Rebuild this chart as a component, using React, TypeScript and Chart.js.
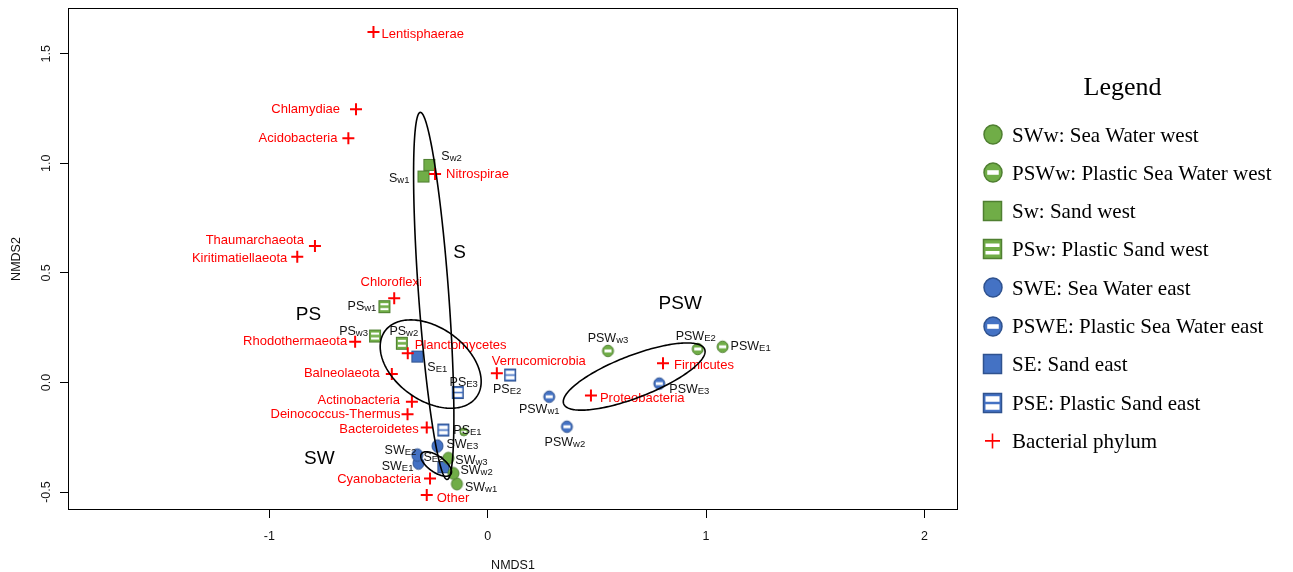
import React, { useEffect, useRef } from 'react';
import { Chart, registerables } from 'chart.js';

Chart.register(...registerables);

// ---------------- DATA ----------------
const xTicks = [-1, 0, 1, 2];
const yTicks = [-0.5, 0, 0.5, 1, 1.5];
const xRange = [-1.922, 2.154];
const yRange = [-0.582, 1.709];

const swwNames = ['SWw1', 'SWw2', 'SWw3'];
const swwX = [-0.141, -0.157, -0.18];
const swwY = [-0.463, -0.415, -0.346];

const pswwNames = ['PSWw3', 'PSWE2', 'PSWE1', ''];
const pswwX = [0.551, 0.962, 1.076, -0.109];
const pswwY = [0.144, 0.153, 0.163, -0.225];

const swNames = ['Sw1', 'Sw2'];
const swX = [-0.294, -0.267];
const swY = [0.94, 0.993];

const pswNames = ['PSw1', 'PSw2', 'PSw3'];
const pswX = [-0.473, -0.393, -0.516];
const pswY = [0.346, 0.179, 0.212];

const sweNames = ['SWE1', 'SWE2', 'SWE3'];
const sweX = [-0.317, -0.322, -0.23];
const sweY = [-0.368, -0.331, -0.29];

const psweNames = ['PSWE3', 'PSWw1', 'PSWw2'];
const psweX = [0.786, 0.282, 0.363];
const psweY = [-0.005, -0.065, -0.202];

const seNames = ['SE1', 'SE2'];
const seX = [-0.322, -0.203];
const seY = [0.118, -0.387];

const pseNames = ['PSE1', 'PSE2', 'PSE3'];
const pseX = [-0.203, 0.103, -0.137];
const pseY = [-0.217, 0.034, -0.046];

const phylumNames = [
  'Lentisphaerae', 'Chlamydiae', 'Acidobacteria', 'Nitrospirae', 'Thaumarchaeota',
  'Kiritimatiellaeota', 'Chloroflexi', 'Rhodothermaeota', 'Planctomycetes', 'Balneolaeota',
  'Verrucomicrobia', 'Actinobacteria', 'Deinococcus-Thermus', 'Bacteroidetes',
  'Cyanobacteria', 'Other', 'Firmicutes', 'Proteobacteria',
];
const phylumX = [-0.523, -0.603, -0.638, -0.241, -0.791, -0.872, -0.428, -0.607, -0.366, -0.439,
  0.042, -0.347, -0.367, -0.279, -0.264, -0.279, 0.803, 0.473];
const phylumY = [1.599, 1.247, 1.115, 0.951, 0.623, 0.574, 0.384, 0.186, 0.133, 0.039,
  0.042, -0.088, -0.145, -0.206, -0.438, -0.514, 0.088, -0.06];

const groupNames = ['S', 'PS', 'SW', 'PSW'];
const groupX = [-0.129, -0.821, -0.771, 0.882];
const groupY = [0.594, 0.308, -0.349, 0.358];

const ellipseCX = [-0.247, -0.261, -0.236, 0.671];
const ellipseCY = [0.395, 0.084, -0.372, 0.027];
const ellipseA = [0.84, 0.258, 0.082, 0.346];
const ellipseB = [0.069, 0.166, 0.037, 0.096];
const ellipseAngle = [94.2, -35.4, -35, 21.1];

const legendTitle = 'Legend';
const legendLabels = [
  'SWw: Sea Water west',
  'PSWw: Plastic Sea Water west',
  'Sw: Sand west',
  'PSw: Plastic Sand west',
  'SWE: Sea Water east',
  'PSWE: Plastic Sea Water east',
  'SE: Sand east',
  'PSE: Plastic Sand east',
  'Bacterial phylum',
];

// ---------------- STYLE ----------------
const GREEN = '#70AD47';
const GREEN_D = '#4F7F31';
const BLUE = '#4472C4';
const BLUE_D = '#2F528F';
const RED = '#FF0000';
const SANS = '"Liberation Sans", Arial, sans-serif';
const SERIF = '"Liberation Serif", "Times New Roman", serif';

// label placement: [dx px, dy px, align]
const sampleLabelPlace: Record<string, [number, number, CanvasTextAlign]> = {
  Sw1: [-14, 1, 'right'],
  Sw2: [12, -9, 'left'],
  PSw1: [-8, -1, 'right'],
  PSw3: [-7, -6, 'right'],
  PSw2: [2, -13, 'center'],
  SE1: [10, 10, 'left'],
  PSE3: [6, -11, 'center'],
  PSE2: [-3, 13, 'center'],
  PSE1: [10, -1, 'left'],
  SWE3: [9, -3, 'left'],
  SWE2: [-1, -6, 'right'],
  SWE1: [-5, 2, 'right'],
  SE2: [0, -11, 'right'],
  SWw3: [7, 1, 'left'],
  SWw2: [7, -4, 'left'],
  SWw1: [8, 3, 'left'],
  PSWw3: [0, -13, 'center'],
  PSWE2: [-2, -13, 'center'],
  PSWE1: [8, -1, 'left'],
  PSWE3: [10, 5, 'left'],
  PSWw1: [-10, 12, 'center'],
  PSWw2: [-2, 15, 'center'],
};

const phylumLabelPlace: [number, number, CanvasTextAlign][] = [
  [8, 2, 'left'], [-16, 0, 'right'], [-11, 0, 'right'], [11, 0, 'left'], [-11, -6, 'right'],
  [-10, 2, 'right'], [-3, -16, 'center'], [-8, 0, 'right'], [7, -8, 'left'], [-12, -1, 'right'],
  [-5, -12, 'left'], [-12, -1, 'right'], [-7, 0, 'right'], [-8, 2, 'right'],
  [-9, 1, 'right'], [10, 3, 'left'], [11, 2, 'left'], [9, 3, 'left'],
];

type Kind = 'circle' | 'pcircle' | 'square' | 'psquare';

function makeMarker(kind: Kind, fill: string, stroke: string, w: number, h: number, opt: any = {}) {
  const pad = 2;
  const c = document.createElement('canvas');
  c.width = Math.ceil(w + pad * 2);
  c.height = Math.ceil(h + pad * 2);
  const g = c.getContext('2d')!;
  const cx = c.width / 2;
  const cy = c.height / 2;
  g.fillStyle = fill;
  g.strokeStyle = stroke;
  g.lineWidth = opt.lw || 1;
  if (kind === 'circle' || kind === 'pcircle') {
    g.beginPath();
    g.ellipse(cx, cy, w / 2, h / 2, 0, 0, Math.PI * 2);
    g.fill();
    g.stroke();
    if (kind === 'pcircle') {
      g.fillStyle = '#fff';
      const bh = h * (opt.band || 0.26);
      const bw = w * 0.64;
      g.fillRect(cx - bw / 2, cy - bh / 2, bw, bh);
    }
  } else {
    g.fillRect(cx - w / 2, cy - h / 2, w, h);
    g.strokeRect(cx - w / 2 + 0.5, cy - h / 2 + 0.5, w - 1, h - 1);
    if (kind === 'psquare') {
      g.fillStyle = '#fff';
      const sh = opt.stripe || 2.5;
      const m = opt.mid || 2;
      const ins = opt.inset || 2;
      g.fillRect(cx - w / 2 + ins, cy - m / 2 - sh, w - ins * 2, sh);
      g.fillRect(cx - w / 2 + ins, cy + m / 2, w - ins * 2, sh);
    }
  }
  return c;
}

function drawSubLabel(ctx: CanvasRenderingContext2D, name: string, x: number, y: number, align: CanvasTextAlign) {
  const main = name.slice(0, -2);
  const sub = name.slice(-2);
  const fMain = `12.5px ${SANS}`;
  const fSub = `9.5px ${SANS}`;
  ctx.font = fMain;
  const mw = ctx.measureText(main).width;
  ctx.font = fSub;
  const sw = ctx.measureText(sub).width;
  const total = mw + sw;
  let sx = x;
  if (align === 'right') sx = x - total;
  else if (align === 'center') sx = x - total / 2;
  ctx.textAlign = 'left';
  ctx.textBaseline = 'alphabetic';
  ctx.fillStyle = '#111';
  ctx.font = fMain;
  ctx.fillText(main, sx, y + 4.5);
  ctx.font = fSub;
  ctx.fillText(sub, sx + mw, y + 5.5);
}

export default function App() {
  const ref = useRef<HTMLCanvasElement>(null);

  useEffect(() => {
    document.body.style.margin = '0';
    const canvas = ref.current!;

    const mk = {
      sww: makeMarker('circle', GREEN, GREEN_D, 11, 12),
      psww: makeMarker('pcircle', GREEN, GREEN_D, 11, 11.5),
      pswwSmall: makeMarker('pcircle', GREEN, GREEN_D, 8, 8),
      sw: makeMarker('square', GREEN, GREEN_D, 12, 12),
      psw: makeMarker('psquare', GREEN, GREEN_D, 12, 13, { stripe: 2.2, mid: 2.6, inset: 2 }),
      swe: makeMarker('circle', BLUE, BLUE_D, 11, 12.5),
      pswe: makeMarker('pcircle', BLUE, BLUE_D, 11, 11.5),
      se: makeMarker('square', BLUE, BLUE_D, 12, 12),
      pse: makeMarker('psquare', BLUE, BLUE_D, 12, 13, { stripe: 3.6, mid: 1.6, inset: 1.6 }),
    };
    const lg = [
      makeMarker('circle', GREEN, GREEN_D, 18, 19, { lw: 1.5 }),
      makeMarker('pcircle', GREEN, GREEN_D, 18, 19, { lw: 1.5, band: 0.24 }),
      makeMarker('square', GREEN, GREEN_D, 19, 20, { lw: 1.5 }),
      makeMarker('psquare', GREEN, GREEN_D, 19, 20, { lw: 1.5, stripe: 3.5, mid: 4, inset: 2.5 }),
      makeMarker('circle', BLUE, BLUE_D, 18, 19, { lw: 1.5 }),
      makeMarker('pcircle', BLUE, BLUE_D, 18, 19, { lw: 1.5, band: 0.24 }),
      makeMarker('square', BLUE, BLUE_D, 19, 20, { lw: 1.5 }),
      makeMarker('psquare', BLUE, BLUE_D, 19, 20, { lw: 1.5, stripe: 5.5, mid: 2.5, inset: 2.5 }),
    ];

    const sampleSets = [
      { names: swwNames, x: swwX, y: swwY, style: mk.sww },
      { names: pswwNames, x: pswwX, y: pswwY, style: [mk.psww, mk.psww, mk.psww, mk.pswwSmall] },
      { names: swNames, x: swX, y: swY, style: mk.sw },
      { names: pswNames, x: pswX, y: pswY, style: mk.psw },
      { names: sweNames, x: sweX, y: sweY, style: mk.swe },
      { names: psweNames, x: psweX, y: psweY, style: mk.pswe },
      { names: seNames, x: seX, y: seY, style: mk.se },
      { names: pseNames, x: pseX, y: pseY, style: mk.pse },
    ];

    const datasets: any[] = [
      {
        label: 'Bacterial phylum',
        data: phylumX.map((v, i) => ({ x: v, y: phylumY[i] })),
        pointStyle: 'cross',
        pointRadius: 6,
        borderWidth: 2,
        borderColor: RED,
        backgroundColor: RED,
      },
      ...sampleSets.map((s) => ({
        label: s.names.join(','),
        data: s.x.map((v, i) => ({ x: v, y: s.y[i] })),
        pointStyle: s.style,
        pointRadius: 6,
      })),
    ];

    const annot = {
      id: 'annot',
      afterDatasetsDraw(chart: any) {
        const ctx: CanvasRenderingContext2D = chart.ctx;
        const xs = chart.scales.x;
        const ys = chart.scales.y;
        ctx.save();
        // sample labels
        sampleSets.forEach((s) => {
          s.names.forEach((n, i) => {
            if (!n) return;
            const p = sampleLabelPlace[n] || [8, 0, 'left'];
            drawSubLabel(ctx, n, xs.getPixelForValue(s.x[i]) + p[0], ys.getPixelForValue(s.y[i]) + p[1], p[2]);
          });
        });
        // phylum labels
        ctx.font = `13px ${SANS}`;
        ctx.fillStyle = RED;
        ctx.textBaseline = 'middle';
        phylumNames.forEach((n, i) => {
          const p = phylumLabelPlace[i];
          ctx.textAlign = p[2];
          ctx.fillText(n, xs.getPixelForValue(phylumX[i]) + p[0], ys.getPixelForValue(phylumY[i]) + p[1]);
        });
        // group labels
        ctx.font = `19px ${SANS}`;
        ctx.fillStyle = '#000';
        ctx.textAlign = 'center';
        ctx.textBaseline = 'middle';
        groupNames.forEach((n, i) => {
          ctx.fillText(n, xs.getPixelForValue(groupX[i]), ys.getPixelForValue(groupY[i]));
        });
        // ellipses
        ctx.strokeStyle = '#000';
        ctx.lineWidth = 1.6;
        for (let k = 0; k < ellipseCX.length; k++) {
          const th = (ellipseAngle[k] * Math.PI) / 180;
          ctx.beginPath();
          const N = 200;
          for (let s = 0; s <= N; s++) {
            const t = (s / N) * Math.PI * 2;
            const ex = ellipseCX[k] + ellipseA[k] * Math.cos(t) * Math.cos(th) - ellipseB[k] * Math.sin(t) * Math.sin(th);
            const ey = ellipseCY[k] + ellipseA[k] * Math.cos(t) * Math.sin(th) + ellipseB[k] * Math.sin(t) * Math.cos(th);
            const px = xs.getPixelForValue(ex);
            const py = ys.getPixelForValue(ey);
            if (s === 0) ctx.moveTo(px, py);
            else ctx.lineTo(px, py);
          }
          ctx.closePath();
          ctx.stroke();
        }
        ctx.restore();
      },
      afterDraw(chart: any) {
        const ctx: CanvasRenderingContext2D = chart.ctx;
        const a = chart.chartArea;
        const ys = chart.scales.y;
        ctx.save();
        // box
        ctx.strokeStyle = '#000';
        ctx.lineWidth = 1;
        ctx.strokeRect(Math.round(a.left) + 0.5, Math.round(a.top) + 0.5, Math.round(a.right - a.left) - 1, Math.round(a.bottom - a.top) - 1);
        // y tick labels (rotated)
        ctx.fillStyle = '#111';
        ctx.font = `12.5px ${SANS}`;
        ctx.textAlign = 'center';
        ctx.textBaseline = 'middle';
        yTicks.forEach((v) => {
          ctx.save();
          ctx.translate(47, ys.getPixelForValue(v));
          ctx.rotate(-Math.PI / 2);
          ctx.fillText(v.toFixed(1), 0, 0);
          ctx.restore();
        });
        // axis titles
        ctx.fillText('NMDS1', (a.left + a.right) / 2, 566);
        ctx.save();
        ctx.translate(17, (a.top + a.bottom) / 2);
        ctx.rotate(-Math.PI / 2);
        ctx.fillText('NMDS2', 0, 0);
        ctx.restore();
        // legend
        ctx.fillStyle = '#000';
        ctx.font = `26px ${SERIF}`;
        ctx.textAlign = 'center';
        ctx.textBaseline = 'alphabetic';
        ctx.fillText(legendTitle, 1122.5, 95);
        ctx.font = `21px ${SERIF}`;
        ctx.textAlign = 'left';
        legendLabels.forEach((lab, i) => {
          const y = 134.5 + i * 38.3;
          if (i < lg.length) {
            const m = lg[i];
            ctx.drawImage(m, Math.round(992.5 - m.width / 2), Math.round(y - m.height / 2));
          } else {
            ctx.strokeStyle = RED;
            ctx.lineWidth = 1.6;
            ctx.beginPath();
            ctx.moveTo(985, y);
            ctx.lineTo(1000, y);
            ctx.moveTo(992.5, y - 7.5);
            ctx.lineTo(992.5, y + 7.5);
            ctx.stroke();
          }
          ctx.fillStyle = '#000';
          ctx.fillText(lab, 1012, y + 7);
        });
        ctx.restore();
      },
    };

    const chart = new Chart(canvas, {
      type: 'scatter',
      data: { datasets },
      options: {
        animation: false,
        responsive: false,
        layout: { padding: { left: 0, right: 335, top: 8, bottom: 0 } },
        plugins: { legend: { display: false }, tooltip: { enabled: false } },
        scales: {
          x: {
            type: 'linear',
            min: xRange[0],
            max: xRange[1],
            afterBuildTicks: (s: any) => {
              s.ticks = xTicks.map((v) => ({ value: v }));
            },
            afterFit: (s: any) => {
              s.height = 62;
            },
            grid: { drawOnChartArea: false, drawTicks: true, tickLength: 8, color: '#000', lineWidth: 1 },
            border: { display: false },
            ticks: {
              color: '#111',
              font: { family: SANS, size: 12.5 },
              padding: 11,
              maxRotation: 0,
              callback: (v: any) => String(v),
            },
          },
          y: {
            type: 'linear',
            min: yRange[0],
            max: yRange[1],
            afterBuildTicks: (s: any) => {
              s.ticks = yTicks.map((v) => ({ value: v }));
            },
            afterFit: (s: any) => {
              s.width = 68;
            },
            grid: { drawOnChartArea: false, drawTicks: true, tickLength: 8, color: '#000', lineWidth: 1 },
            border: { display: false },
            ticks: { display: false },
          },
        },
      } as any,
      plugins: [annot],
    });
    return () => chart.destroy();
  }, []);

  return (
    <div style={{ position: 'absolute', left: 0, top: 0, width: 1293, height: 572, background: '#fff' }}>
      <canvas ref={ref} width={1293} height={572} style={{ width: 1293, height: 572, display: 'block' }} />
    </div>
  );
}
